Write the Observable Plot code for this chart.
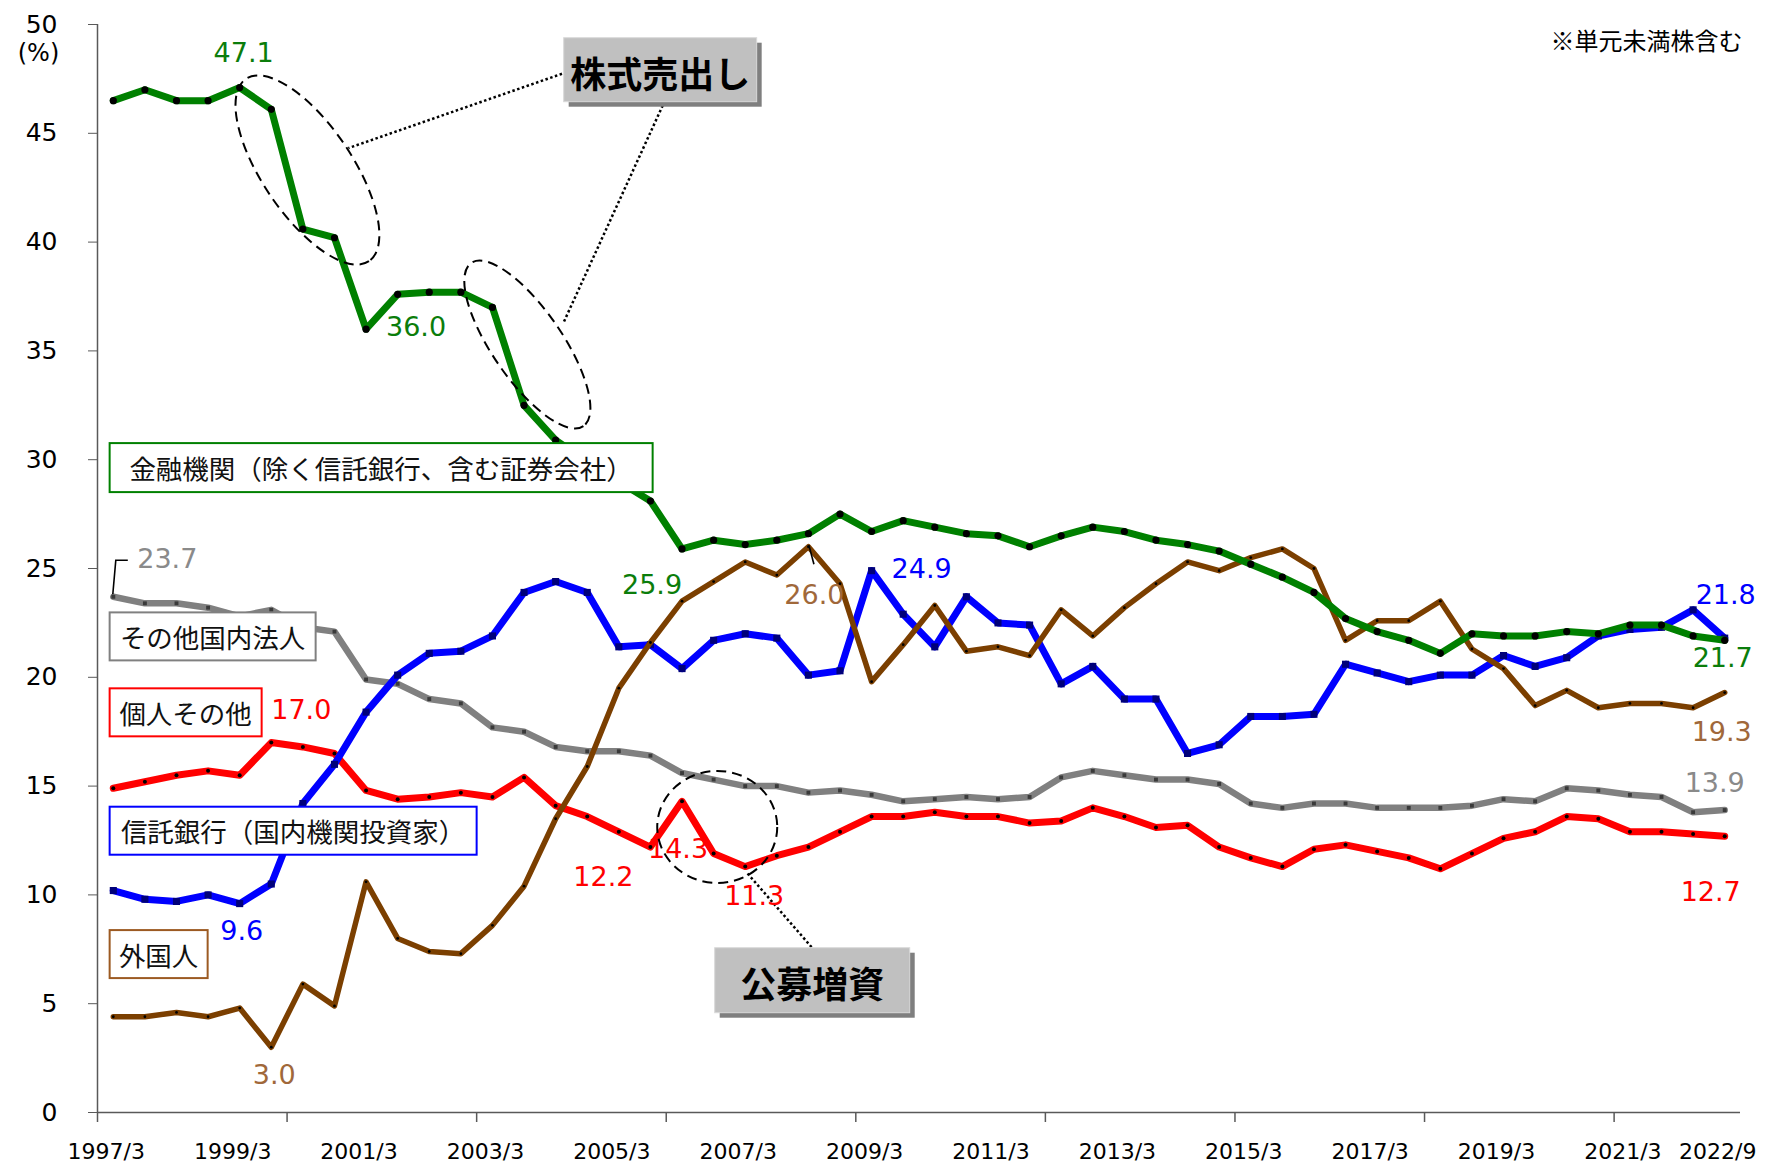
<!DOCTYPE html>
<html><head><meta charset="utf-8">
<script src="https://cdn.jsdelivr.net/npm/d3@7"></script>
<script src="https://cdn.jsdelivr.net/npm/@observablehq/plot@0.6"></script>
<style>
html,body{margin:0;padding:0;background:#fff;overflow:hidden;}
#chart svg{display:block;}
</style></head><body><div id="chart"></div>
<script>
// ---- categories (semi-annual) ----
const periods = ["1997/3","1997/9","1998/3","1998/9","1999/3","1999/9","2000/3","2000/9","2001/3","2001/9",
"2002/3","2002/9","2003/3","2003/9","2004/3","2004/9","2005/3","2005/9","2006/3","2006/9",
"2007/3","2007/9","2008/3","2008/9","2009/3","2009/9","2010/3","2010/9","2011/3","2011/9",
"2012/3","2012/9","2013/3","2013/9","2014/3","2014/9","2015/3","2015/9","2016/3","2016/9",
"2017/3","2017/9","2018/3","2018/9","2019/3","2019/9","2020/3","2020/9","2021/3","2021/9",
"2022/3","2022/9"];

// ---- series values (%) ----
const financial = [46.5,47.0,46.5,46.5,47.1,46.1,40.6,40.2,36.0,37.6,37.7,37.7,37.0,32.5,30.9,29.9,29.0,28.1,25.9,26.3,
26.1,26.3,26.6,27.5,26.7,27.2,26.9,26.6,26.5,26.0,26.5,26.9,26.7,26.3,26.1,25.8,25.2,24.6,23.9,22.7,
22.1,21.7,21.1,22.0,21.9,21.9,22.1,22.0,22.4,22.4,21.9,21.7];
const trustBanks = [10.2,9.8,9.7,10.0,9.6,10.5,14.2,16.0,18.4,20.1,21.1,21.2,21.9,23.9,24.4,23.9,21.4,21.5,20.4,21.7,
22.0,21.8,20.1,20.3,24.9,22.9,21.4,23.7,22.5,22.4,19.7,20.5,19.0,19.0,16.5,16.9,18.2,18.2,18.3,20.6,
20.2,19.8,20.1,20.1,21.0,20.5,20.9,21.9,22.2,22.3,23.1,21.8];
const otherCorp = [23.7,23.4,23.4,23.2,22.8,23.1,22.3,22.1,19.9,19.7,19.0,18.8,17.7,17.5,16.8,16.6,16.6,16.4,15.6,15.3,
15.0,15.0,14.7,14.8,14.6,14.3,14.4,14.5,14.4,14.5,15.4,15.7,15.5,15.3,15.3,15.1,14.2,14.0,14.2,14.2,
14.0,14.0,14.0,14.1,14.4,14.3,14.9,14.8,14.6,14.5,13.8,13.9];
const individuals = [14.9,15.2,15.5,15.7,15.5,17.0,16.8,16.5,14.8,14.4,14.5,14.7,14.5,15.4,14.1,13.6,12.9,12.2,14.3,11.9,
11.3,11.8,12.2,12.9,13.6,13.6,13.8,13.6,13.6,13.3,13.4,14.0,13.6,13.1,13.2,12.2,11.7,11.3,12.1,12.3,
12.0,11.7,11.2,11.9,12.6,12.9,13.6,13.5,12.9,12.9,12.8,12.7];
const foreigners = [4.4,4.4,4.6,4.4,4.8,3.0,5.9,4.9,10.6,8.0,7.4,7.3,8.6,10.4,13.5,15.9,19.5,21.6,23.5,24.4,
25.3,24.7,26.0,24.3,19.8,21.5,23.3,21.2,21.4,21.0,23.1,21.9,23.2,24.3,25.3,24.9,25.5,25.9,25.0,21.7,
22.6,22.6,23.5,21.3,20.4,18.7,19.4,18.6,18.8,18.8,18.6,19.3];

// ---- tick labels ----
const xTickLabels = ["1997/3","1999/3","2001/3","2003/3","2005/3","2007/3","2009/3","2011/3","2013/3","2015/3","2017/3","2019/3","2021/3","2022/9"];
const yTicks = [0,5,10,15,20,25,30,35,40,45,50];
const tickMarkEvery = 6;

// ---- series styling ----
const seriesDefs = [
  {key:"individuals", values:individuals, color:"#ff0000", text:"#ff0000", width:7, symbol:"circle", mfill:"#000", r:2},
  {key:"otherCorp",   values:otherCorp,   color:"#808080", text:"#8a8a8a", width:6.5, symbol:"square", mfill:"#3a3a3a", r:2.2},
  {key:"trustBanks",  values:trustBanks,  color:"#0000ff", text:"#0000ff", width:7, symbol:"square", mfill:"#00007a", r:4},
  {key:"foreigners",  values:foreigners,  color:"#7b3f00", text:"#a0683a", width:5.5, symbol:"circle", mfill:"#000", r:1.4},
  {key:"financial",   values:financial,   color:"#008000", text:"#0b7d0b", width:7, symbol:"circle", mfill:"#000", r:3.6}
];
const byKey = Object.fromEntries(seriesDefs.map(s => [s.key, s]));

// ---- annotations ----
const valueLabels = [
  {key:"financial", i:4, dx:4, dy:-34},
  {key:"financial", i:8, dx:50, dy:-2},
  {key:"financial", i:18, dx:-30, dy:36},
  {key:"financial", i:51, dx:-2, dy:18},
  {key:"trustBanks", i:24, dx:50, dy:-1},
  {key:"trustBanks", i:51, dx:1, dy:-43},
  {key:"trustBanks", i:4, dx:2, dy:28},
  {key:"otherCorp", i:0, dx:54, dy:-37},
  {key:"otherCorp", i:51, dx:-10, dy:-27},
  {key:"individuals", i:5, dx:30, dy:-32},
  {key:"individuals", i:17, dx:-47, dy:30},
  {key:"individuals", i:18, dx:-4, dy:48},
  {key:"individuals", i:20, dx:9, dy:30},
  {key:"individuals", i:51, dx:-14, dy:56},
  {key:"foreigners", i:5, dx:3, dy:28},
  {key:"foreigners", i:22, dx:6, dy:49},
  {key:"foreigners", i:51, dx:-3, dy:40}
];
const legendBoxes = [
  {label:"金融機関（除く信託銀行、含む証券会社）", color:"#008000", x:-0.1, y:30.74, w:543, h:49},
  {label:"その他国内法人", color:"#808080", x:-0.1, y:22.96, w:206, h:48},
  {label:"個人その他", color:"#ff0000", x:-0.1, y:19.47, w:152, h:48},
  {label:"信託銀行（国内機関投資家）", color:"#0000ff", x:-0.1, y:14.03, w:367, h:48},
  {label:"外国人", color:"#9c5a22", x:-0.1, y:8.36, w:98, h:48}
];
const callouts = [
  {label:"株式売出し", x:14.27, y:49.37, w:193, h:64},
  {label:"公募増資", x:19.05, y:7.55, w:195, h:65}
];
const ellipses = [
  {x:6.16, y:43.29, rx:110, ry:45, rotate:56},
  {x:13.12, y:35.27, rx:99, ry:35, rotate:55.5},
  {x:19.13, y:13.10, rx:60, ry:56, rotate:0}
];
const leaders = [
  {x1:14.35, y1:47.81, x2:7.44, y2:44.32},
  {x1:17.39, y1:46.28, x2:14.24, y2:36.27},
  {x1:22.10, y1:7.60, x2:20.04, y2:11.04}
];
const elbowLeaders = [
  {key:"otherCorp", i:0, path:[[0,-2],[3,-36],[15,-36]]},
  {key:"foreigners", i:22, path:[[1,-1],[6,18]]}
];

const FONT = "'DejaVu Sans','Noto Sans CJK JP',sans-serif";
const JFONT = "'Noto Sans CJK JP','DejaVu Sans',sans-serif";
const AXIS = "#595959";

const tickIndex = xTickLabels.map(l => periods.indexOf(l));
const boundaries = d3.range(-0.5, periods.length, tickMarkEvery);

const marks = [
  Plot.ruleY([0], {stroke: AXIS, strokeWidth: 1.5}),
  Plot.ruleX([-0.5], {stroke: AXIS, strokeWidth: 1.5}),
  Plot.axisY({ticks: yTicks, tickSize: 9, tickPadding: 31, fontSize: 25, stroke: AXIS, fill: "#000", label: null, tickFormat: d => String(d)}),
  Plot.axisX({ticks: tickIndex, tickSize: 0, tickPadding: 31, fontSize: 22, fill: "#000", label: null, dx: -7, tickFormat: i => periods[i]}),
  Plot.axisX({ticks: boundaries, tickSize: 10, stroke: AXIS, strokeWidth: 1.5, label: null, tickFormat: () => ""})
];
for (const s of seriesDefs) {
  marks.push(Plot.line(s.values, {x: (d, i) => i, y: d => d, stroke: s.color, strokeWidth: s.width, strokeLinejoin: "round"}));
  marks.push(Plot.dot(s.values, {x: (d, i) => i, y: d => d, r: s.r, fill: s.mfill, symbol: s.symbol, stroke: "none"}));
}
marks.push(Plot.link(leaders, {x1: "x1", y1: "y1", x2: "x2", y2: "y2", stroke: "#000", strokeWidth: 2.5, strokeDasharray: "2.5,2.5"}));
for (const L of valueLabels) {
  const s = byKey[L.key];
  marks.push(Plot.text([L], {x: d => d.i, y: d => s.values[d.i], text: d => s.values[d.i].toFixed(1),
    dx: L.dx, dy: L.dy, fill: s.text, fontSize: 27, textAnchor: "middle", fontFamily: FONT}));
}
marks.push(Plot.text(["(%)"], {frameAnchor: "top-left", lineAnchor: "middle", dx: -59, dy: 29, fontSize: 24, fill: "#000", textAnchor: "middle", fontFamily: FONT}));
marks.push(Plot.text(["※単元未満株含む"], {frameAnchor: "top-right", lineAnchor: "middle", dx: 2, dy: 18, fontSize: 24, fill: "#000", textAnchor: "end", fontFamily: JFONT}));

const plot = Plot.plot({
  width: 1781, height: 1166,
  marginLeft: 97, marginRight: 41, marginTop: 24, marginBottom: 54,
  x: {type: "linear", domain: [-0.5, periods.length - 0.5]},
  y: {domain: [0, 50]},
  style: {fontFamily: FONT, background: "#fff", overflow: "visible"},
  marks
});
document.getElementById("chart").appendChild(plot);

// ---- overlays positioned through the plot's scales ----
const xs = plot.scale("x"), ys = plot.scale("y");
const X = xs.apply ? v => xs.apply(v) : d3.scaleLinear(xs.domain, xs.range);
const Y = ys.apply ? v => ys.apply(v) : d3.scaleLinear(ys.domain, ys.range);
const svg = d3.select(plot);
const g = svg.append("g");

for (const e of ellipses) {
  g.append("ellipse").attr("cx", 0).attr("cy", 0).attr("rx", e.rx).attr("ry", e.ry)
    .attr("transform", `translate(${X(e.x)},${Y(e.y)}) rotate(${e.rotate})`)
    .attr("fill", "none").attr("stroke", "#000").attr("stroke-width", 2).attr("stroke-dasharray", "10,6");
}
for (const L of elbowLeaders) {
  const s = byKey[L.key];
  const px = X(L.i), py = Y(s.values[L.i]);
  g.append("path").attr("d", "M" + L.path.map(([a, b]) => `${px + a},${py + b}`).join("L"))
    .attr("fill", "none").attr("stroke", "#000").attr("stroke-width", 1.6);
}
for (const b of legendBoxes) {
  const x0 = X(b.x), y0 = Y(b.y);
  g.append("rect").attr("x", x0).attr("y", y0).attr("width", b.w).attr("height", b.h)
    .attr("fill", "#fff").attr("stroke", b.color).attr("stroke-width", 2);
  g.append("text").attr("x", x0 + b.w / 2).attr("y", y0 + b.h / 2).attr("text-anchor", "middle")
    .attr("dominant-baseline", "central").attr("font-family", JFONT).attr("font-size", 26.5).attr("fill", "#111").text(b.label);
}
for (const c of callouts) {
  const x0 = X(c.x), y0 = Y(c.y);
  g.append("rect").attr("x", x0 + 5).attr("y", y0 + 5).attr("width", c.w).attr("height", c.h).attr("fill", "#7f7f7f");
  g.append("rect").attr("x", x0).attr("y", y0).attr("width", c.w).attr("height", c.h).attr("fill", "#c0c0c0")
    .attr("stroke", "#d9d9d9").attr("stroke-width", 1);
  g.append("text").attr("x", x0 + c.w / 2).attr("y", y0 + c.h / 2 + 2).attr("text-anchor", "middle")
    .attr("dominant-baseline", "central").attr("font-family", JFONT).attr("font-weight", "bold")
    .attr("font-size", 36).attr("fill", "#000").text(c.label);
}
</script></body></html>
